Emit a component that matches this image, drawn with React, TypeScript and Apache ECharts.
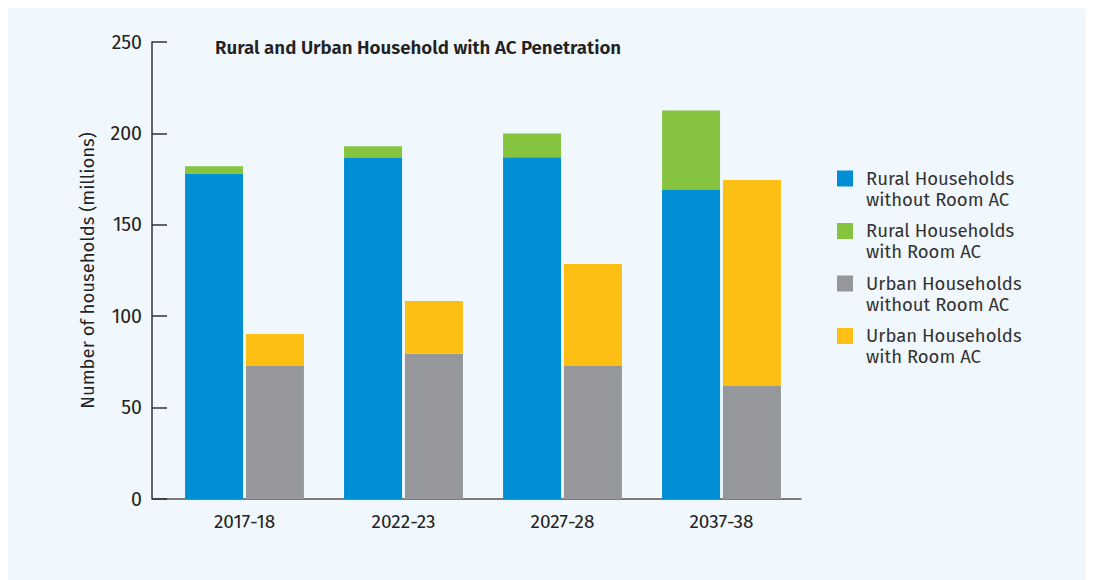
import React, { useEffect, useRef } from "react";
import * as echarts from "echarts";

const categories = ["2017-18", "2022-23", "2027-28", "2037-38"];
const ruralWithout = [178, 186.5, 187, 169];
const ruralWith = [4, 6.5, 13, 43.5];
const urbanWithout = [72.7, 79.5, 72.7, 61.8];
const urbanWith = [17.6, 28.8, 55.8, 112.7];
const yTicks = [0, 50, 100, 150, 200, 250];
const seriesNames = [
  "Rural Households\nwithout Room AC",
  "Rural Households\nwith Room AC",
  "Urban Households\nwithout Room AC",
  "Urban Households\nwith Room AC",
];
const colors = ["#008FD5", "#86C440", "#96979B", "#FDBF14"];

const FONT = "'Fira Sans', 'Noto Sans', 'Open Sans', sans-serif";

export default function App() {
  const ref = useRef<HTMLDivElement>(null);
  useEffect(() => {
    if (!ref.current) return;
    const chart = echarts.init(ref.current, undefined, { renderer: "svg" });
    const data = [ruralWithout, ruralWith, urbanWithout, urbanWith];
    const stacks = ["rural", "rural", "urban", "urban"];
    const rich: Record<string, any> = {
      t: { fontSize: 18.5, color: "#333", lineHeight: 21, fontFamily: FONT },
      ind: { width: 29, height: 16 },
      gap: { width: 13, height: 16 },
    };
    colors.forEach((c, i) => {
      rich["sq" + i] = { width: 16, height: 16, backgroundColor: c, verticalAlign: "middle" };
    });
    chart.setOption({
      animation: false,
      backgroundColor: "#F0F7FD",
      textStyle: { fontFamily: FONT },
      title: {
        text: "Rural and Urban Household with AC Penetration",
        left: 202,
        top: 25,
        textStyle: { fontSize: 18.7, fontWeight: 600, color: "#222", fontFamily: FONT },
      },
      legend: {
        orient: "vertical",
        left: 819,
        top: 155,
        itemWidth: 0,
        itemHeight: 0,
        itemGap: 10.5,
        icon: "none",
        data: seriesNames,
        formatter: (name: string) => {
          const i = seriesNames.indexOf(name);
          const lines = name.split("\n");
          return `{sq${i}|}{gap|}{t|${lines[0]}}\n{ind|}{t|${lines[1]}}`;
        },
        textStyle: { fontSize: 18.5, color: "#333", lineHeight: 21, fontFamily: FONT, padding: 0, rich },
      },
      grid: { left: 157, right: 293, top: 34, bottom: 81 },
      xAxis: {
        type: "category",
        data: categories,
        axisLine: { lineStyle: { color: "#555", width: 1.5 } },
        axisTick: { inside: true, length: 11, lineStyle: { color: "#333" } },
        axisLabel: { fontSize: 19, color: "#222", margin: 13, fontFamily: FONT },
      },
      yAxis: {
        type: "value",
        min: 0,
        max: yTicks[yTicks.length - 1],
        interval: 50,
        offset: 13,
        name: "Number of households (millions)",
        nameLocation: "middle",
        nameGap: 55,
        nameTextStyle: { fontSize: 18.5, color: "#222", fontFamily: FONT },
        axisLine: { show: true, lineStyle: { color: "#333", width: 1.5 } },
        axisTick: { show: true, inside: true, length: 15, lineStyle: { color: "#333", width: 1.5 } },
        axisLabel: { fontSize: 19.5, color: "#222", margin: 10, fontFamily: FONT },
        splitLine: { show: false },
      },
      graphic: [
        {
          type: "line",
          shape: { x1: 144, y1: 491, x2: 158, y2: 491 },
          style: { stroke: "#555", lineWidth: 1.5 },
        },
      ],
      series: data.map((d, i) => ({
        type: "bar",
        name: seriesNames[i],
        stack: stacks[i],
        data: d,
        barWidth: 58,
        barGap: "5%",
        itemStyle: { color: colors[i] },
      })),
    });
    return () => chart.dispose();
  }, []);
  return <div ref={ref} style={{ width: 1086, height: 572 }} />;
}
